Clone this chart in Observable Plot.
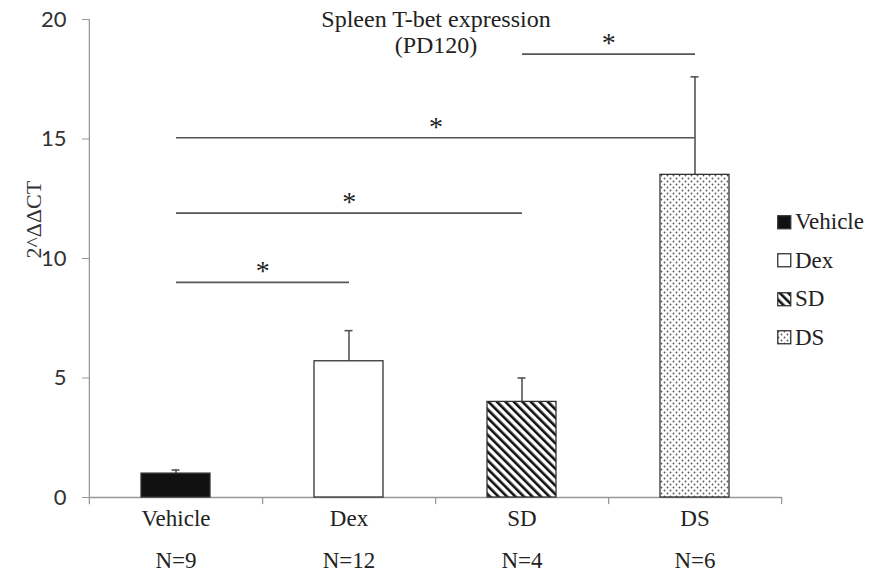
<!DOCTYPE html>
<html>
<head>
<meta charset="utf-8">
<script src="https://cdn.jsdelivr.net/npm/d3@7"></script>
<script src="https://cdn.jsdelivr.net/npm/@observablehq/plot@0.6"></script>
<style>
  html, body { margin: 0; padding: 0; background: #fff; }
  #wrap { position: relative; width: 870px; height: 579px; }
  #legend { position: absolute; left: 777px; top: 203px; font-family: "Liberation Serif", "Times New Roman", serif; font-size: 23px; color: #222; }
  .row { display: flex; align-items: center; height: 38.5px; }
  .row svg { margin-right: 3px; }
</style>
</head>
<body>
<svg width="0" height="0" style="position:absolute">
  <defs>
    <pattern id="hatch" patternUnits="userSpaceOnUse" width="6" height="6" patternTransform="rotate(-45)">
      <rect width="6" height="6" fill="#fff"></rect>
      <rect x="0" y="0" width="2.6" height="6" fill="#111"></rect>
    </pattern>
    <pattern id="dots" patternUnits="userSpaceOnUse" width="6" height="6">
      <rect width="6" height="6" fill="#fff"></rect>
      <circle cx="1.5" cy="1.5" r="0.9" fill="#555"></circle>
      <circle cx="4.5" cy="4.5" r="0.9" fill="#555"></circle>
    </pattern>
  </defs>
</svg>
<div id="wrap"><div id="legend"></div></div>
<script>
const groups = ["Vehicle", "Dex", "SD", "DS"];
const means = [1.0, 5.7, 4.0, 13.5];
const errors = [0.15, 1.28, 1.0, 4.1];
const sampleSizes = ["N=9", "N=12", "N=4", "N=6"];
const yTicks = [0, 5, 10, 15, 20];
const sigFrom = ["Vehicle", "Vehicle", "Vehicle", "SD"];
const sigTo = ["Dex", "SD", "DS", "DS"];
const sigY = [9.0, 11.9, 15.05, 18.55];
const fills = ["#111", "#fff", "url(#hatch)", "url(#dots)"];
const title = "Spleen T-bet expression\n(PD120)";
const yLabel = "2^ΔΔCT";

const data = groups.map((g, i) => ({group: g, value: means[i], err: errors[i], top: means[i] + errors[i], n: sampleSizes[i], fill: fills[i]}));
const sig = sigFrom.map((f, i) => ({from: f, to: sigTo[i], y: sigY[i]}));

const W = 870, H = 579, mL = 89, mR = 88, mT = 19, mB = 82;
const step = (W - mL - mR) / (groups.length - 0.6 + 0.6);
const serif = "'Liberation Serif', 'Times New Roman', serif";
const sans = "Lato, 'Open Sans', sans-serif";
const grey = "#999";

const marks = [
  Plot.ruleY([0], {stroke: grey, strokeWidth: 1.3}),
  Plot.ruleX([groups[0]], {dx: -step / 2, y1: -0.3, y2: 20, stroke: grey, strokeWidth: 1.3}),
  Plot.ruleX(groups, {x: d => d, dx: step / 2, y1: -0.3, y2: 0, stroke: grey, strokeWidth: 1.3}),
  Plot.axisY({ticks: yTicks, tickSize: 7, tickPadding: 16, stroke: grey, fill: "#333", fontSize: 22, fontFamily: sans, label: null}),
  Plot.axisX({tickSize: 0, tickPadding: 12, fontSize: 23, fontFamily: serif, fill: "#222", label: null}),
  Plot.text(data, {x: "group", text: "n", frameAnchor: "bottom", dy: 70, fontSize: 23, fontFamily: serif, fill: "#222"}),
  Plot.ruleX(data, {x: "group", y1: "value", y2: "top", stroke: "#555", strokeWidth: 1.6}),
  Plot.tickY(data, {x: "group", y: "top", stroke: "#555", strokeWidth: 1.6, insetLeft: 30.5, insetRight: 30.5}),
  ...data.map(d => Plot.barY([d], {x: "group", y: "value", fill: d.fill, stroke: "#333", strokeWidth: 1.3})),
  Plot.link(sig, {x1: "from", x2: "to", y1: "y", y2: "y", stroke: "#555", strokeWidth: 1.6}),
  ...sig.map(s => Plot.text([s], {x: "from", y: "y", text: () => "*", dx: (groups.indexOf(s.to) - groups.indexOf(s.from)) * step / 2, dy: -11, fontSize: 28, fontFamily: serif, fill: "#222"})),
  Plot.text([title], {frameAnchor: "top", text: d => d, lineAnchor: "top", dy: -10, lineHeight: 1.05, fontSize: 24, fontFamily: serif, fill: "#222"}),
  Plot.text([yLabel], {frameAnchor: "left", text: d => d, rotate: -90, dx: -56, fontSize: 22, fontFamily: serif, fill: "#333"})
];

const chart = Plot.plot({
  width: W, height: H,
  marginLeft: mL, marginRight: mR, marginTop: mT, marginBottom: mB,
  x: {domain: groups, paddingInner: 0.6, paddingOuter: 0.3, axis: null},
  y: {domain: [0, 20], axis: null},
  style: {background: "#fff", overflow: "visible"},
  marks
});
document.getElementById("wrap").prepend(chart);

const legend = document.getElementById("legend");
data.forEach(d => {
  const row = document.createElement("div");
  row.className = "row";
  row.innerHTML = `<svg width="15" height="15"><rect x="0.75" y="0.75" width="13" height="13" fill="${d.fill}" stroke="#333" stroke-width="1.3"></rect></svg><span>${d.group}</span>`;
  legend.appendChild(row);
});
</script>
</body>
</html>
